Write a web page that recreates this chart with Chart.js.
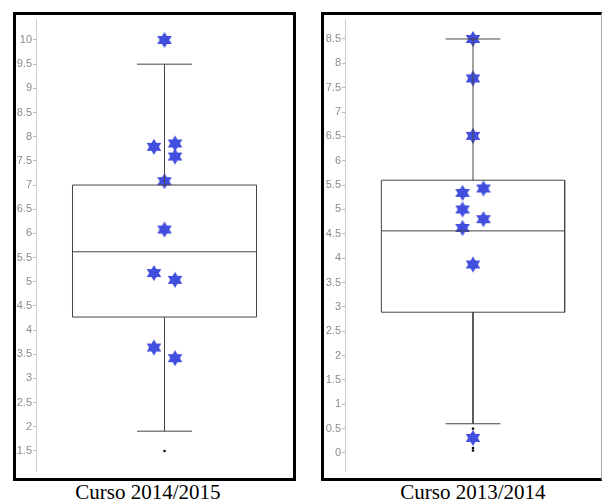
<!DOCTYPE html>
<html lang="es">
<head>
    <meta charset="UTF-8">
    <title>Curso 2014/2015 - Curso 2013/2014</title>
    <script src="https://cdn.jsdelivr.net/npm/chart.js"></script>
    <style>
        body {
            margin: 0;
            background: #fff;
            width: 603px;
            height: 502px;
            overflow: hidden;
            position: relative;
        }
        .panel {
            position: absolute;
            top: 12px;
            width: 277px;
            height: 463px;
            border: 3px solid #000;
        }
        #panelLeft { left: 13px; }
        #panelRight { left: 321px; border-right: 1px solid #aaa; }
        .caption {
            position: absolute;
            top: 482px;
            width: 200px;
            text-align: center;
            font-family: "Liberation Serif", "Times New Roman", serif;
            font-size: 21px;
            line-height: 21px;
            color: #000;
        }
    </style>
</head>
<body>
    <div class="panel" id="panelLeft"><canvas id="chartLeft" width="277" height="463"></canvas></div>
    <div class="panel" id="panelRight"><canvas id="chartRight" width="277" height="463"></canvas></div>
    <div class="caption" style="left:48px">Curso 2014/2015</div>
    <div class="caption" style="left:373px">Curso 2013/2014</div>

    <script>
        // Curso 2014/2015
        const leftTicks = [1.5, 2, 2.5, 3, 3.5, 4, 4.5, 5, 5.5, 6, 6.5, 7, 7.5, 8, 8.5, 9, 9.5, 10];
        const leftBox = [1.91, 4.27, 5.62, 7.0, 9.5];   // whisker low, q1, median, q3, whisker high
        const leftOutliers = [1.5];
        const leftStars = [10, 7.79, 7.86, 7.59, 7.08, 6.08, 5.18, 5.04, 3.64, 3.42];
        const leftLanes = [0, -1, 1, 1, 0, 0, -1, 1, -1, 1];

        // Curso 2013/2014
        const rightTicks = [0, 0.5, 1, 1.5, 2, 2.5, 3, 3.5, 4, 4.5, 5, 5.5, 6, 6.5, 7, 7.5, 8, 8.5];
        const rightBox = [0.6, 2.89, 4.56, 5.6, 8.5];
        const rightOutliers = [0.5, 0.1, 0.05];
        const rightStars = [8.5, 7.69, 6.51, 5.34, 5.43, 5.0, 4.8, 4.62, 3.87, 0.31];
        const rightLanes = [0, 0, 0, -1, 1, -1, 1, -1, 0, 0];

        const BOX_HALF = 0.716;
        const CAP_HALF = 0.214;
        const LANE_GAP = 0.082;
        const STAR_COLOR = 'rgb(66, 78, 222)';
        const LINE_COLOR = '#444';

        // six pointed star used as point style
        function makeStar() {
            const c = document.createElement('canvas');
            c.width = 18; c.height = 18;
            const ctx = c.getContext('2d');
            const r = 8, sx = 1.05;
            ctx.fillStyle = STAR_COLOR;
            [-Math.PI / 2, Math.PI / 2].forEach(start => {
                ctx.beginPath();
                for (let k = 0; k < 3; k++) {
                    const a = start + k * 2 * Math.PI / 3;
                    const px = 9 + Math.cos(a) * r * sx;
                    const py = 9 + Math.sin(a) * r;
                    if (k === 0) ctx.moveTo(px, py); else ctx.lineTo(px, py);
                }
                ctx.closePath();
                ctx.fill();
            });
            return c;
        }
        const starImg = makeStar();

        function seg(points) {
            return {
                data: points,
                showLine: true,
                borderColor: LINE_COLOR,
                borderWidth: 1,
                pointRadius: 0,
                fill: false
            };
        }

        function drawBoxChart(id, box, outliers, stars, lanes, ticks, yMin, yMax, axisWidth) {
            const [lo, q1, med, q3, hi] = box;
            const datasets = [
                seg([{x: -BOX_HALF, y: q1}, {x: -BOX_HALF, y: q3}, {x: BOX_HALF, y: q3}, {x: BOX_HALF, y: q1}, {x: -BOX_HALF, y: q1}]),
                seg([{x: -BOX_HALF, y: med}, {x: BOX_HALF, y: med}]),
                seg([{x: 0, y: q3}, {x: 0, y: hi}]),
                seg([{x: -CAP_HALF, y: hi}, {x: CAP_HALF, y: hi}]),
                seg([{x: 0, y: q1}, {x: 0, y: lo}]),
                seg([{x: -CAP_HALF, y: lo}, {x: CAP_HALF, y: lo}]),
                {
                    data: outliers.map(v => ({x: 0, y: v})),
                    pointRadius: 1.3,
                    pointBackgroundColor: '#111',
                    pointBorderWidth: 0
                },
                {
                    data: stars.map((v, i) => ({x: lanes[i] * LANE_GAP, y: v})),
                    pointStyle: starImg,
                    pointRadius: 8
                }
            ];

            new Chart(document.getElementById(id), {
                type: 'scatter',
                data: { datasets: datasets },
                options: {
                    responsive: false,
                    animation: false,
                    devicePixelRatio: 1,
                    layout: { autoPadding: false, padding: { top: 4, bottom: 7, left: 0, right: 0 } },
                    plugins: { legend: { display: false }, tooltip: { enabled: false } },
                    scales: {
                        x: { type: 'linear', min: -1, max: 1, display: false },
                        y: {
                            type: 'linear',
                            min: yMin,
                            max: yMax,
                            afterBuildTicks: s => { s.ticks = ticks.map(v => ({ value: v })); },
                            afterFit: s => {
                                s.width = axisWidth;
                                s.paddingTop = 0;
                                s.paddingBottom = 0;
                            },
                            ticks: {
                                color: '#8c8c8c',
                                padding: 1,
                                font: { family: 'Liberation Sans', size: 11 },
                                callback: v => String(v)
                            },
                            grid: { drawOnChartArea: false, drawTicks: true, tickLength: 3, color: '#bbb' },
                            border: { display: true, color: '#ccc' }
                        }
                    }
                }
            });
        }

        drawBoxChart('chartLeft', leftBox, leftOutliers, leftStars, leftLanes, leftTicks, 1.086, 10.434, 20);
        drawBoxChart('chartRight', rightBox, rightOutliers, rightStars, rightLanes, rightTicks, -0.37, 8.91, 21);
    </script>
</body>
</html>
